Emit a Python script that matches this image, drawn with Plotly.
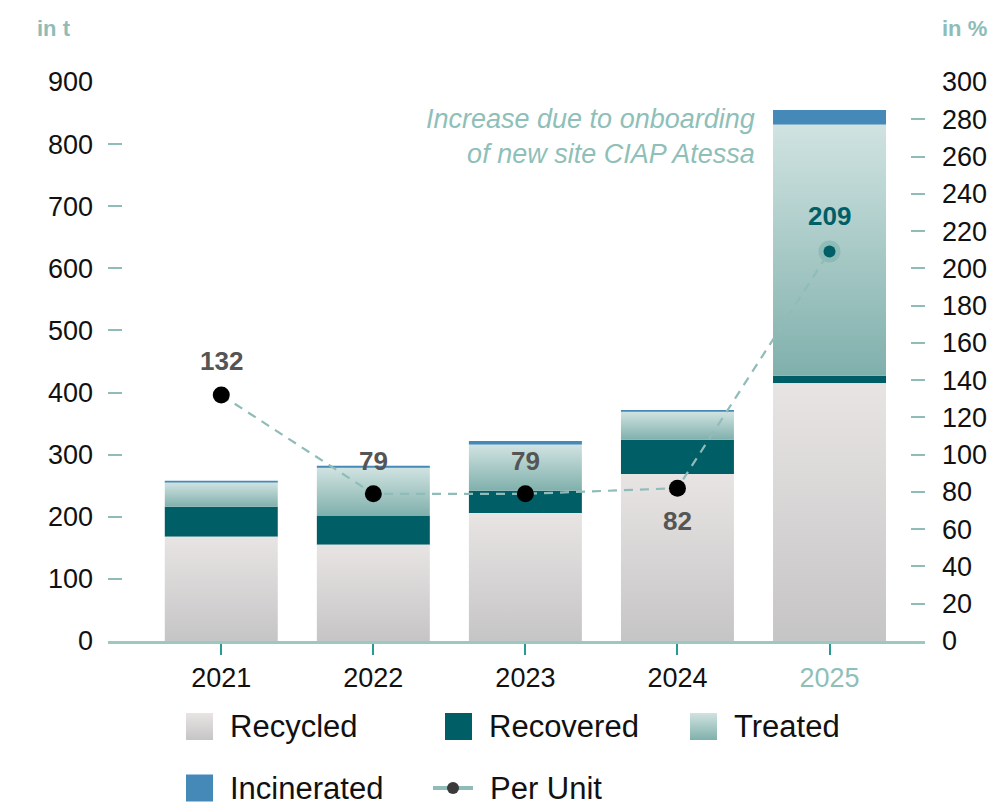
import plotly.graph_objects as go

# ---- data -------------------------------------------------------------
years = ["2021", "2022", "2023", "2024", "2025"]
recycled = [168, 155, 206, 269, 415]
recovered = [48, 47, 36, 55, 12]
treated = [39, 77, 74, 45, 404]
incinerated = [3, 3, 6, 3, 24]
per_unit = [132, 79, 79, 82, 209]

left_ticks = list(range(0, 901, 100))
right_ticks = list(range(0, 301, 20))

# ---- styling ----------------------------------------------------------
W, H = 989, 807
FONT = "Liberation Sans, Arial, Helvetica, sans-serif"
TEAL_LIGHT = "#8fbcb8"
TEAL_DARK = "#005f66"
BLUE = "#4589b8"
RECYCLED_GRAD = ("#c6c5c5", "#e8e4e4")   # bottom, top
TREATED_GRAD = ("#80b0ac", "#d0e3e1")    # bottom, top
BAR_W = 0.743
xpos = list(range(len(years)))

fig = go.Figure()


def gradient_box(x0, x1, y0, y1, colors, xaxis="x", yaxis="y"):
    """A rectangle filled with a vertical gradient (bottom -> top)."""
    return go.Scatter(
        x=[x0, x1, x1, x0, x0], y=[y0, y0, y1, y1, y0],
        mode="lines", fill="toself", line=dict(width=0),
        fillgradient=dict(type="vertical", start=y0, stop=y1,
                          colorscale=[[0, colors[0]], [1, colors[1]]]),
        hoverinfo="skip", showlegend=False, xaxis=xaxis, yaxis=yaxis,
    )


# stacked segments
base_rec = recycled
base_tre = [a + b for a, b in zip(recycled, recovered)]
base_inc = [a + b for a, b in zip(base_tre, treated)]

fig.add_trace(go.Bar(x=xpos, y=recovered, base=base_rec, width=BAR_W,
                     marker=dict(color=TEAL_DARK, line=dict(width=0)),
                     name="Recovered", showlegend=False))
fig.add_trace(go.Bar(x=xpos, y=incinerated, base=base_inc, width=BAR_W,
                     marker=dict(color=BLUE, line=dict(width=0)),
                     name="Incinerated", showlegend=False))

for i in xpos:
    x0, x1 = i - BAR_W / 2, i + BAR_W / 2
    fig.add_trace(gradient_box(x0, x1, 0, recycled[i], RECYCLED_GRAD))
    fig.add_trace(gradient_box(x0, x1, base_tre[i], base_tre[i] + treated[i], TREATED_GRAD))

# per-unit line on the right axis
last = len(years) - 1
fig.add_trace(go.Scatter(x=[xpos[last]], y=[per_unit[last]], yaxis="y2", mode="markers",
                         marker=dict(size=22, color="rgba(110,170,165,0.45)"),
                         hoverinfo="skip", showlegend=False))
fig.add_trace(go.Scatter(
    x=xpos, y=per_unit, yaxis="y2", mode="lines", name="Per Unit",
    line=dict(color=TEAL_LIGHT, width=2.2, dash="9px,7px"),
    hoverinfo="skip", showlegend=False,
))
fig.add_trace(go.Scatter(
    x=xpos, y=per_unit, yaxis="y2", mode="markers", name="Per Unit",
    marker=dict(size=[17, 17, 17, 17, 12],
                color=["#000000"] * 4 + [TEAL_DARK], opacity=1,
                line=dict(width=0)),
    showlegend=False,
))

annotations = []
label_shift = [34, 33, 33, -33, 36]
for i, v in enumerate(per_unit):
    annotations.append(dict(
        x=xpos[i], y=v, xref="x", yref="y2", text=f"<b>{v}</b>", showarrow=False,
        yshift=label_shift[i],
        font=dict(family=FONT, size=26, color=TEAL_DARK if i == last else "#555555"),
    ))

# note next to the 2025 bar
annotations.append(dict(
    x=757 / W, y=(H - 136) / H, xref="paper", yref="paper", xanchor="right", yanchor="middle",
    align="right", showarrow=False,
    text="<i>Increase due to onboarding<br>of new site CIAP Atessa</i>",
    font=dict(family=FONT, size=27, color="#8fbfb9"),
))

# axis unit titles
annotations.append(dict(x=35 / W, y=(H - 28) / H, xref="paper", yref="paper",
                        xanchor="left", yanchor="middle", showarrow=False,
                        text="<b>in t</b>", font=dict(family=FONT, size=22, color=TEAL_LIGHT)))
annotations.append(dict(x=1.0, y=(H - 28) / H, xref="paper", yref="paper",
                        xanchor="right", yanchor="middle", showarrow=False,
                        text="<b>in %</b>", font=dict(family=FONT, size=22, color=TEAL_LIGHT)))

# ---- legend (drawn on a full-figure helper axis, pixel units) ----------
SW = 27
legend_items = [
    ("Recycled", 186, 726.5, "grad", RECYCLED_GRAD),
    ("Recovered", 445, 726.5, "flat", TEAL_DARK),
    ("Treated", 690, 726.5, "grad", TREATED_GRAD),
    ("Incinerated", 186, 788, "flat", BLUE),
    ("Per Unit", 433, 788, "line", None),
]
for label, lx, ly, kind, col in legend_items:
    yc = H - ly
    if kind == "grad":
        fig.add_trace(gradient_box(lx, lx + SW, yc - SW / 2, yc + SW / 2, col,
                                   xaxis="x3", yaxis="y3"))
    elif kind == "flat":
        fig.add_trace(go.Scatter(x=[lx, lx + SW, lx + SW, lx, lx],
                                 y=[yc - SW / 2, yc - SW / 2, yc + SW / 2, yc + SW / 2, yc - SW / 2],
                                 mode="lines", fill="toself", fillcolor=col, line=dict(width=0),
                                 hoverinfo="skip", showlegend=False, xaxis="x3", yaxis="y3"))
    else:
        fig.add_trace(go.Scatter(x=[lx, lx + 40], y=[yc, yc], mode="lines",
                                 line=dict(color=TEAL_LIGHT, width=4),
                                 hoverinfo="skip", showlegend=False, xaxis="x3", yaxis="y3"))
        fig.add_trace(go.Scatter(x=[lx + 20], y=[yc], mode="markers",
                                 marker=dict(size=12, color="#3a3a3a"),
                                 hoverinfo="skip", showlegend=False, xaxis="x3", yaxis="y3"))
    tx = lx + (55 if kind == "line" else 42)
    annotations.append(dict(x=tx / W, y=yc / H, xref="paper", yref="paper",
                            xanchor="left", yanchor="middle", showarrow=False, text=label,
                            font=dict(family=FONT, size=31, color="#111111")))

ticktext = years[:-1] + [f"<span style='color:#8fbfb9'>{years[-1]}</span>"]
tickfont = dict(family=FONT, size=27, color="#111111")

fig.update_layout(
    width=W, height=H, margin=dict(l=0, r=0, t=0, b=0, autoexpand=False),
    paper_bgcolor="white", plot_bgcolor="rgba(0,0,0,0)",
    barmode="overlay", showlegend=False,
    font=dict(family=FONT),
    xaxis=dict(domain=[108 / W, 925 / W], range=[-0.745, 4.628],
               tickmode="array", tickvals=xpos, ticktext=ticktext, tickfont=tickfont,
               showline=True, linecolor="#9cc8c4", linewidth=2.5,
               ticks="outside", ticklen=11, tickwidth=2, tickcolor="#2a9a90",
               showgrid=False, zeroline=False, fixedrange=True, ticklabelstandoff=0),
    yaxis=dict(domain=[(H - 641) / H, (H - 82) / H], range=[0, 900],
               tickmode="array", tickvals=left_ticks, tickfont=tickfont,
               ticks="inside", ticklen=14, tickwidth=2, tickcolor=TEAL_LIGHT,
               showline=False, showgrid=False, zeroline=False, ticklabelstandoff=14),
    yaxis2=dict(overlaying="y", side="right", anchor="x", range=[0, 300],
                tickmode="array", tickvals=right_ticks, tickfont=tickfont,
                ticks="inside", ticklen=14, tickwidth=2, tickcolor=TEAL_LIGHT,
                showline=False, showgrid=False, zeroline=False, ticklabelstandoff=16),
    xaxis3=dict(domain=[0, 1], range=[0, W], visible=False, anchor="y3", fixedrange=True),
    yaxis3=dict(domain=[0, 1], range=[0, H], visible=False, anchor="x3", fixedrange=True),
    annotations=annotations,
)

fig.write_html("out.html")
